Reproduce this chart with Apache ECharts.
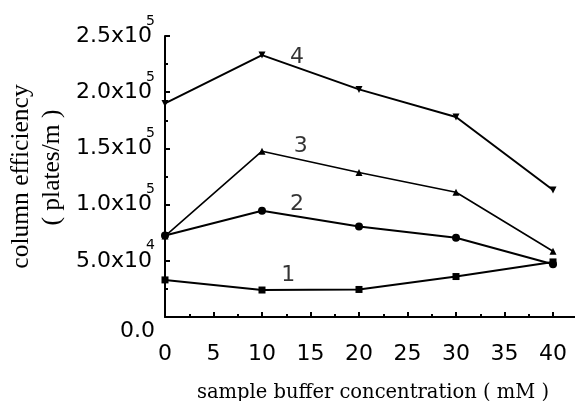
<!DOCTYPE html>
<html>
<head>
<meta charset="utf-8">
<script src="https://cdn.jsdelivr.net/npm/echarts@6/dist/echarts.min.js"></script>
<style>
  html, body { margin: 0; padding: 0; background: #fff; }
  #chart { width: 575px; height: 401px; }
</style>
</head>
<body>
<div id="chart"></div>
<script>
// Sample buffer concentration (mM)
var concentration = [0, 10, 20, 30, 40];

// Column efficiency (plates/m) for curves 1-4
var curve1 = [33000, 24000, 24500, 36000, 49000];
var curve2 = [72500, 94500, 80500, 70500, 47000];
var curve3 = [72000, 147500, 128500, 111000, 58500];
var curve4 = [190000, 233000, 202500, 178000, 113000];

// Curve number annotations, placed in data coordinates
var curveNames = ['1', '2', '3', '4'];
var curveNameX = [12.7, 13.6, 14.0, 13.6];
var curveNameY = [37000, 100000, 152000, 231500];

var xTicks = [0, 5, 10, 15, 20, 25, 30, 35, 40];

var SANS = 'DejaVu Sans, Verdana, sans-serif';
var SERIF = 'Liberation Serif, Times New Roman, serif';
var WIDE_SERIF = 'DejaVu Serif, Georgia, serif';

function pairs(xs, ys) {
  return xs.map(function (x, i) { return [x, ys[i]]; });
}

function yLabel(v) {
  if (v === 0) return '{z|0.0}';
  var e = v >= 100000 ? 5 : 4;
  var m = (v / Math.pow(10, e)).toFixed(1);
  return '{m|' + m + 'x10}{s|' + e + '}';
}

function lineSeries(values, symbol, size, rotate, width) {
  return {
    type: 'line',
    xAxisIndex: 0,
    yAxisIndex: 0,
    data: pairs(concentration, values),
    symbol: symbol,
    symbolSize: size,
    symbolRotate: rotate,
    showSymbol: true,
    lineStyle: { color: '#000', width: width },
    itemStyle: { color: '#000', borderWidth: 0 },
    emphasis: { disabled: true },
    z: 3
  };
}

var chart = echarts.init(document.getElementById('chart'), null, { renderer: 'canvas' });

chart.setOption({
  animation: false,
  backgroundColor: '#fff',
  grid: [
    // plotting area; the x axis line runs a little past 40
    { left: 165, top: 36, width: 412.25, height: 281, containLabel: false, outerBoundsMode: 'none' },
    // tick/label scale for 0-40
    { left: 165, top: 36, width: 388, height: 281, containLabel: false, outerBoundsMode: 'none' }
  ],
  xAxis: [
    {
      type: 'value', gridIndex: 0, min: 0, max: 42.5,
      axisLine: { show: true, onZero: false, lineStyle: { color: '#000', width: 2 } },
      axisTick: { show: false },
      axisLabel: { show: false },
      splitLine: { show: false }
    },
    {
      type: 'value', gridIndex: 1, min: 0, max: 40, interval: 5,
      axisLine: { show: false },
      axisTick: { show: true, inside: true, length: 5, lineStyle: { color: '#000', width: 2 } },
      minorTick: { show: true, splitNumber: 2, length: 3, lineStyle: { color: '#000', width: 2 } },
      axisLabel: {
        margin: 26, color: '#000', fontFamily: SANS, fontSize: 22,
        customValues: xTicks
      },
      splitLine: { show: false },
      name: 'sample buffer concentration ( mM )',
      nameLocation: 'middle',
      nameGap: 66,
      nameTextStyle: { fontFamily: WIDE_SERIF, fontSize: 19.5, color: '#000', padding: [0, 0, 0, 28] }
    }
  ],
  yAxis: [
    {
      type: 'value', gridIndex: 0, min: 0, max: 250000, interval: 50000,
      axisLine: { show: true, lineStyle: { color: '#000', width: 2 } },
      axisTick: { show: true, inside: true, length: 5, lineStyle: { color: '#000', width: 2 } },
      minorTick: { show: true, splitNumber: 2, length: 3, lineStyle: { color: '#000', width: 2 } },
      splitLine: { show: false },
      axisLabel: {
        margin: 10,
        formatter: yLabel,
        rich: {
          m: { fontFamily: SANS, fontSize: 22, color: '#000' },
          // exponent tucked up against the end of "x10"
          s: { fontFamily: SANS, fontSize: 14, color: '#000', padding: [0, 0, 30, 0], width: 3, align: 'right' },
          z: { fontFamily: SANS, fontSize: 22, color: '#000', padding: [28, 0, 0, 0] }
        }
      },
      name: '{a|column efficiency}\n{b|( plates/m )}',
      nameLocation: 'middle',
      nameGap: 89,
      nameTextStyle: {
        rich: {
          a: { fontFamily: SERIF, fontSize: 25.5, color: '#000', lineHeight: 31 },
          b: { fontFamily: SERIF, fontSize: 25.5, color: '#000', lineHeight: 31, padding: [0, 0, 0, 18] }
        }
      }
    },
    {
      type: 'value', gridIndex: 1, min: 0, max: 250000, show: false
    }
  ],
  series: [
    lineSeries(curve1, 'rect', 7, 0, 2),
    lineSeries(curve2, 'circle', 8, 0, 2),
    lineSeries(curve3, 'triangle', 7, 0, 1.6),
    lineSeries(curve4, 'triangle', 7, 180, 2),
    {
      type: 'scatter',
      xAxisIndex: 0,
      yAxisIndex: 0,
      symbolSize: 0,
      data: curveNames.map(function (n, i) {
        return { name: n, value: [curveNameX[i], curveNameY[i]] };
      }),
      label: {
        show: true, position: 'inside', formatter: '{b}',
        fontFamily: SANS, fontSize: 22, color: '#000'
      },
      emphasis: { disabled: true },
      silent: true
    }
  ]
});
</script>
</body>
</html>
